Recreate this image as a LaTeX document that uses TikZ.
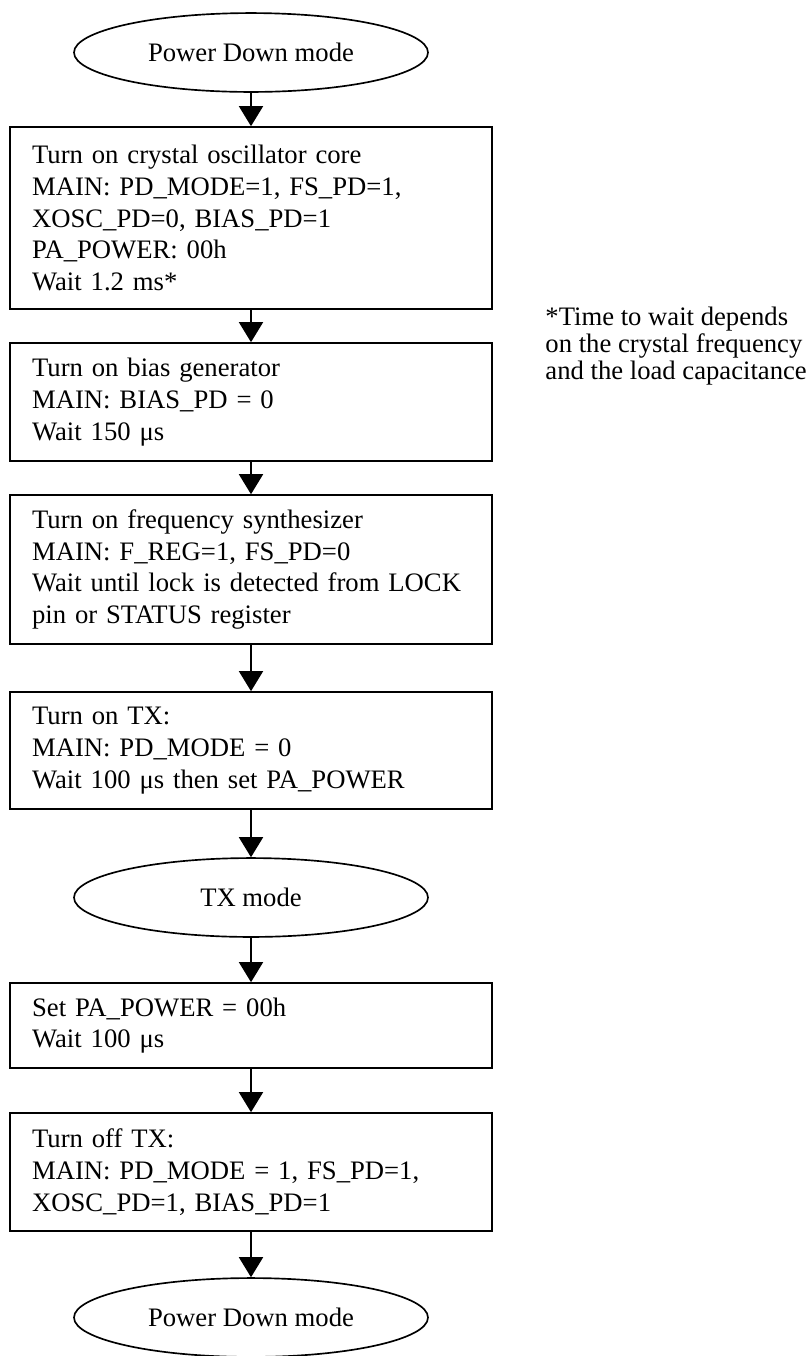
\documentclass[tikz,border=0pt]{standalone}
\usepackage{fontspec}
\setmainfont{Liberation Serif}
\usetikzlibrary{shapes.geometric}
\usetikzlibrary{arrows.meta}

\begin{document}
\begin{tikzpicture}[x=0.45pt,y=-0.45pt]
		\useasboundingbox (0,0) rectangle (809,1356);
		
		\tikzset{ModeStyle/.style = {draw, shape = ellipse, line width = 0.75pt, minimum width = 159.3pt, minimum height = 35.5pt, inner sep = 0pt, font = \fontsize{12pt}{14.3pt}\selectfont}}
		\tikzset{StepStyle/.style = {draw, shape = rectangle, line width = 0.75pt, text width = 197pt, inner xsep = 9.9pt, inner ysep = 0pt, align = left, font = \fontsize{12pt}{14.3pt}\selectfont}}
		\tikzset{NoteStyle/.style = {anchor = north west, inner sep = 0pt, align = left, font = \fontsize{12pt}{12.15pt}\selectfont}}
		
		\node[ModeStyle] (PDstart) at (251,52.5) {Power Down mode};
		\node[StepStyle, minimum height = 81.9pt] (XOSC) at (251,218) {Turn on crystal oscillator core\\ MAIN: PD\_MODE=1, FS\_PD=1,\\ XOSC\_PD=0, BIAS\_PD=1\\ PA\_POWER: 00h\\ Wait 1.2 ms*};
		\node[StepStyle, minimum height = 53.1pt] (BIAS) at (251,402) {Turn on bias generator\\ MAIN: BIAS\_PD = 0\\ Wait 150 μs};
		\node[StepStyle, minimum height = 67pt] (FS) at (251,569.5) {Turn on frequency synthesizer\\ MAIN: F\_REG=1, FS\_PD=0\\ Wait until lock is detected from LOCK\\ pin or STATUS register};
		\node[StepStyle, minimum height = 52.65pt] (TXon) at (251,750.5) {Turn on TX:\\ MAIN: PD\_MODE = 0\\ Wait 100 μs then set PA\_POWER};
		\node[ModeStyle] (TX) at (251,897.5) {TX mode};
		\node[StepStyle, minimum height = 38.25pt] (PAoff) at (251,1025.5) {Set PA\_POWER = 00h\\ Wait 100 μs};
		\node[StepStyle, minimum height = 53.1pt] (TXoff) at (251,1172) {Turn off TX:\\ MAIN: PD\_MODE = 1, FS\_PD=1,\\ XOSC\_PD=1, BIAS\_PD=1};
		\node[ModeStyle] (PDend) at (251,1317.5) {Power Down mode};
		
		% footnote for the wait time
		\node[NoteStyle] (note) at (545,307) {*Time to wait depends\\ on the crystal frequency\\ and the load capacitance};
		
		\tikzset{>={Triangle[width=10.8pt,length=9pt]}} % filled arrowheads
		\tikzset{EdgeStyle/.style = {->, line width = 0.75pt}}
		
		\draw[EdgeStyle] (PDstart) -- (XOSC);
		\draw[EdgeStyle] (XOSC) -- (BIAS);
		\draw[EdgeStyle] (BIAS) -- (FS);
		\draw[EdgeStyle] (FS) -- (TXon);
		\draw[EdgeStyle] (TXon) -- (TX);
		\draw[EdgeStyle] (TX) -- (PAoff);
		\draw[EdgeStyle] (PAoff) -- (TXoff);
		\draw[EdgeStyle] (TXoff) -- (PDend);
\end{tikzpicture}
\end{document}
